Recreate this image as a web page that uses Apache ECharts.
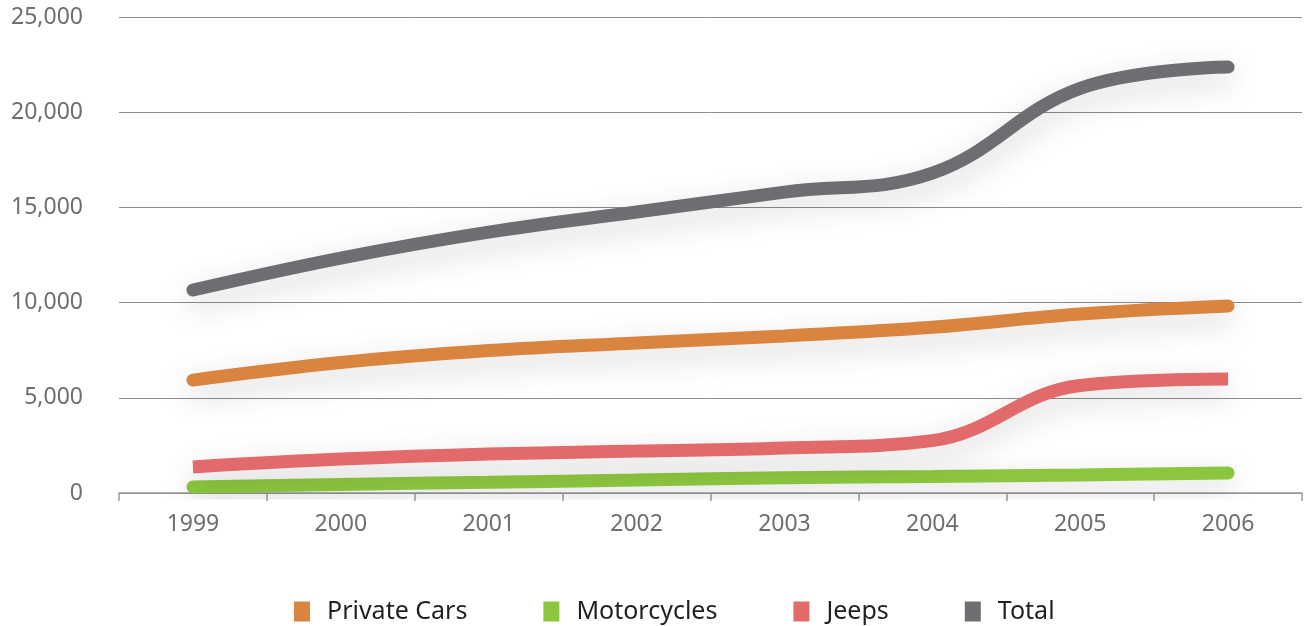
<!DOCTYPE html>
<html><head><meta charset="utf-8">
<script src="https://cdn.jsdelivr.net/npm/echarts@6/dist/echarts.min.js"></script>
<style>html,body{margin:0;padding:0;background:#fff}#c{width:1304px;height:626px}</style>
</head><body><div id="c"></div>
<script>
const years = ['1999','2000','2001','2002','2003','2004','2005','2006'];
const privateCars = [5930, 6850, 7480, 7880, 8250, 8700, 9400, 9820];
const motorcycles = [320, 450, 560, 680, 800, 870, 950, 1050];
const jeeps = [1370, 1780, 2050, 2200, 2360, 2750, 5650, 5990];
const total = [10660, 12340, 13700, 14760, 15800, 16800, 21250, 22370];

const chart = echarts.init(document.getElementById('c'));
const font = '"Noto Sans", sans-serif';
function mk(name, data, color, cap) {
  return {
    name, type: 'line', data, smooth: 0.4, symbol: 'none',
    lineStyle: { width: 13, color, cap, shadowColor: 'rgba(0,0,0,0.18)', shadowBlur: 30, shadowOffsetY: 10 },
    itemStyle: { color }
  };
}
chart.setOption({
  animation: false,
  grid: { left: 119, right: 2, top: 17, bottom: 133 },
  legend: {
    top: 594, left: 289, icon: 'rect', itemWidth: 16, itemHeight: 20, itemGap: 76,
    textStyle: { fontFamily: font, fontSize: 25, color: '#231f20', padding: [0, 0, 0, 12] },
    data: ['Private Cars', 'Motorcycles', 'Jeeps', 'Total']
  },
  xAxis: {
    type: 'category', data: years, boundaryGap: true,
    axisLine: { lineStyle: { color: '#9a9a9a', width: 1.5 } },
    axisTick: { show: true, length: 8, lineStyle: { color: '#9a9a9a', width: 1.5 } },
    axisLabel: { fontFamily: font, fontSize: 23, color: '#6d6e71', margin: 20 }
  },
  yAxis: {
    type: 'value', min: 0, max: 25000, interval: 5000,
    axisLine: { show: false }, axisTick: { show: false },
    splitLine: { lineStyle: { color: '#8c8c8c', width: 1 } },
    axisLabel: { fontFamily: font, fontSize: 23, color: '#6d6e71', margin: 36,
      formatter: v => v.toLocaleString('en-US') }
  },
  series: [
    mk('Private Cars', privateCars, '#d9843f', 'round'),
    mk('Motorcycles', motorcycles, '#8cc63f', 'round'),
    mk('Jeeps', jeeps, '#e26a6a', 'butt'),
    mk('Total', total, '#6d6e71', 'round')
  ]
});
</script></body></html>
